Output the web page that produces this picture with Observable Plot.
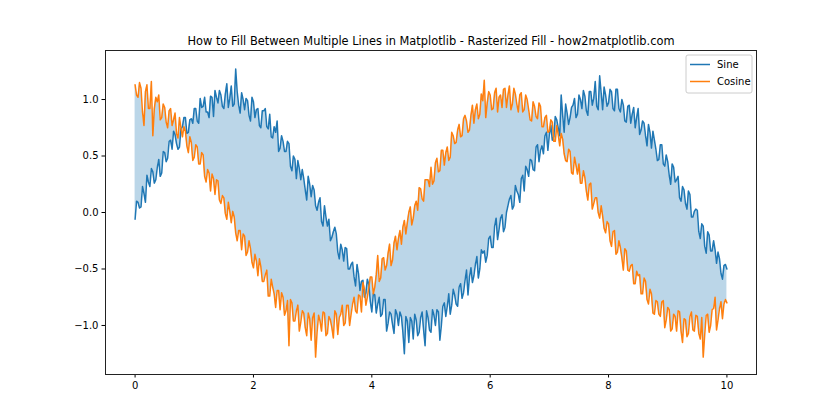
<!DOCTYPE html>
<html>
<head>
<meta charset="utf-8">
<script src="https://cdn.jsdelivr.net/npm/d3@7"></script>
<script src="https://cdn.jsdelivr.net/npm/@observablehq/plot@0.6"></script>
<style>
  html, body { margin: 0; padding: 0; background: #fff; }
  #chart { width: 840px; height: 420px; }
</style>
</head>
<body>
<div id="chart"></div>
<script>
const title = "How to Fill Between Multiple Lines in Matplotlib - Rasterized Fill - how2matplotlib.com";
const seriesNames = ["Sine", "Cosine"];
const seriesColors = ["#1f77b4", "#ff7f0e"];
const xTicks = [0, 2, 4, 6, 8, 10];
const yTicks = [-1.0, -0.5, 0.0, 0.5, 1.0];
const xStart = 0, xEnd = 10;

// noisy sine (x from 0 to 10, step 0.025)
const sine = [
  -0.06, 0.10, 0.09, 0.04, 0.05, 0.23, 0.17, 0.09, 0.33, 0.27, 0.23, 0.39, 0.36, 0.26, 0.29, 0.40, 0.47, 0.32, 0.35, 0.54,
  0.53, 0.45, 0.48, 0.63, 0.64, 0.56, 0.72, 0.69, 0.61, 0.56, 0.58, 0.74, 0.76, 0.84, 0.84, 0.70, 0.71, 0.82, 0.83, 0.79,
  0.92, 0.92, 0.81, 0.79, 1.01, 0.93, 0.94, 1.02, 0.89, 0.89, 0.84, 1.03, 1.02, 0.85, 1.08, 1.02, 0.97, 1.08, 1.04, 0.94,
  0.92, 1.05, 1.14, 0.93, 1.01, 1.12, 0.94, 0.96, 1.27, 1.07, 0.95, 0.88, 1.06, 1.00, 0.91, 1.01, 0.99, 0.86, 0.81, 1.02,
  0.98, 0.84, 0.91, 0.92, 0.77, 0.75, 0.90, 0.90, 0.92, 0.76, 0.74, 0.87, 0.67, 0.66, 0.76, 0.71, 0.81, 0.54, 0.57, 0.68,
  0.63, 0.54, 0.54, 0.63, 0.61, 0.41, 0.37, 0.50, 0.47, 0.30, 0.46, 0.39, 0.29, 0.38, 0.30, 0.20, 0.11, 0.32, 0.25, 0.14,
  0.24, 0.20, 0.06, 0.02, 0.09, 0.13, -0.08, -0.12, 0.06, -0.04, -0.12, -0.06, -0.25, -0.22, -0.17, -0.13, -0.19, -0.35, -0.41, -0.28,
  -0.33, -0.43, -0.31, -0.32, -0.50, -0.50, -0.46, -0.44, -0.57, -0.65, -0.46, -0.54, -0.69, -0.61, -0.60, -0.75, -0.71, -0.59, -0.64, -0.79,
  -0.88, -0.72, -0.73, -0.89, -0.81, -0.75, -0.92, -0.90, -0.77, -0.77, -1.05, -0.98, -0.88, -0.90, -0.99, -1.07, -0.86, -0.90, -1.00, -0.88,
  -0.92, -1.06, -1.25, -0.92, -0.96, -1.15, -0.93, -0.96, -1.12, -0.90, -0.95, -1.09, -1.06, -0.93, -0.88, -1.04, -1.18, -0.87, -0.93, -1.04,
  -1.06, -0.86, -0.91, -1.00, -0.86, -0.88, -1.13, -1.00, -0.83, -0.80, -0.92, -0.83, -0.72, -0.90, -0.82, -0.68, -0.73, -0.81, -0.83, -0.66,
  -0.63, -0.76, -0.71, -0.60, -0.51, -0.73, -0.57, -0.49, -0.62, -0.56, -0.46, -0.39, -0.58, -0.50, -0.33, -0.36, -0.34, -0.44, -0.38, -0.23,
  -0.21, -0.31, -0.31, -0.12, -0.05, -0.24, -0.15, -0.05, -0.02, -0.17, -0.13, 0.00, 0.06, 0.12, 0.15, 0.03, 0.06, 0.24, 0.19, 0.16,
  0.09, 0.30, 0.33, 0.19, 0.41, 0.38, 0.32, 0.47, 0.46, 0.38, 0.37, 0.58, 0.60, 0.45, 0.55, 0.59, 0.52, 0.68, 0.71, 0.55,
  0.69, 0.77, 0.64, 0.67, 0.85, 0.82, 0.75, 0.68, 1.04, 0.86, 0.71, 0.96, 0.88, 0.78, 0.84, 0.93, 0.95, 1.01, 0.84, 0.87,
  1.04, 1.00, 0.92, 1.08, 1.03, 0.90, 0.86, 1.07, 1.07, 0.95, 1.01, 1.16, 0.94, 0.91, 1.21, 1.06, 0.91, 1.11, 1.04, 0.94,
  0.97, 1.09, 1.07, 0.92, 0.90, 1.09, 1.09, 0.92, 0.89, 1.00, 0.95, 0.81, 0.80, 0.94, 0.95, 0.79, 0.87, 0.93, 0.75, 0.84,
  0.92, 0.69, 0.73, 0.81, 0.79, 0.68, 0.59, 0.78, 0.71, 0.57, 0.72, 0.64, 0.56, 0.46, 0.47, 0.60, 0.60, 0.43, 0.41, 0.51,
  0.45, 0.33, 0.25, 0.43, 0.40, 0.27, 0.29, 0.32, 0.13, 0.10, 0.23, 0.20, 0.08, 0.03, 0.19, 0.16, -0.04, -0.04, 0.01, 0.03,
  0.02, -0.17, -0.23, -0.10, -0.12, -0.30, -0.36, -0.17, -0.20, -0.34, -0.34, -0.25, -0.33, -0.45, -0.35, -0.41, -0.54, -0.59, -0.47, -0.46,
  -0.50
];

// noisy cosine (x from 0 to 10, step 0.025)
const cosine = [
  1.13, 1.04, 1.02, 1.15, 1.10, 0.89, 0.77, 1.07, 1.13, 0.92, 0.92, 1.16, 0.68, 0.92, 1.02, 0.98, 1.04, 0.82, 0.84, 0.96,
  0.93, 0.80, 0.75, 0.90, 0.92, 0.77, 0.82, 0.88, 0.70, 0.66, 0.84, 0.75, 0.67, 0.76, 0.72, 0.59, 0.53, 0.67, 0.62, 0.46,
  0.49, 0.60, 0.58, 0.43, 0.43, 0.53, 0.51, 0.32, 0.27, 0.38, 0.35, 0.19, 0.34, 0.30, 0.16, 0.29, 0.28, 0.11, 0.08, 0.15,
  0.13, -0.01, -0.06, 0.09, 0.01, -0.09, 0.01, -0.04, -0.18, -0.25, -0.16, -0.16, -0.33, -0.19, -0.21, -0.38, -0.35, -0.25, -0.32, -0.44,
  -0.49, -0.37, -0.43, -0.56, -0.41, -0.48, -0.61, -0.61, -0.55, -0.51, -0.74, -0.74, -0.59, -0.66, -0.72, -0.84, -0.69, -0.69, -0.86, -0.71,
  -0.75, -0.91, -0.87, -0.78, -1.18, -0.77, -0.80, -0.96, -0.96, -0.87, -0.82, -1.05, -0.97, -0.87, -0.89, -1.02, -1.09, -0.89, -0.94, -1.13,
  -0.93, -0.89, -1.28, -1.06, -0.91, -0.96, -1.05, -0.88, -0.89, -1.09, -1.07, -0.92, -0.95, -1.02, -1.11, -0.87, -0.90, -1.08, -0.93, -0.90,
  -0.82, -1.00, -0.98, -0.82, -0.82, -1.00, -0.90, -0.81, -0.75, -0.87, -0.89, -0.73, -0.74, -0.88, -0.62, -0.68, -0.82, -0.75, -0.66, -0.57,
  -0.57, -0.72, -0.66, -0.55, -0.38, -0.61, -0.58, -0.41, -0.40, -0.51, -0.47, -0.36, -0.28, -0.47, -0.42, -0.27, -0.21, -0.33, -0.23, -0.16,
  -0.28, -0.13, -0.07, -0.19, -0.09, 0.00, 0.05, -0.11, -0.05, 0.06, 0.10, 0.02, 0.22, 0.21, 0.12, 0.10, 0.29, 0.29, 0.29, 0.23,
  0.40, 0.25, 0.28, 0.44, 0.48, 0.36, 0.37, 0.55, 0.55, 0.42, 0.53, 0.58, 0.46, 0.49, 0.71, 0.68, 0.61, 0.62, 0.73, 0.78,
  0.67, 0.68, 0.83, 0.86, 0.81, 0.71, 0.73, 0.86, 0.95, 0.79, 0.91, 0.96, 0.83, 0.87, 1.05, 0.99, 1.17, 0.84, 0.97, 1.07,
  1.04, 0.91, 0.92, 1.06, 1.10, 0.89, 1.02, 1.04, 0.93, 1.09, 1.10, 0.93, 1.04, 1.12, 0.91, 0.96, 1.10, 1.05, 0.96, 0.89,
  1.04, 1.06, 0.89, 0.91, 1.04, 1.00, 0.91, 0.82, 0.81, 0.98, 0.94, 0.85, 0.83, 0.97, 0.94, 0.76, 0.76, 0.84, 0.86, 0.71,
  0.72, 0.82, 0.80, 0.63, 0.63, 0.77, 0.69, 0.59, 0.70, 0.65, 0.52, 0.46, 0.45, 0.56, 0.54, 0.35, 0.34, 0.49, 0.42, 0.34,
  0.43, 0.26, 0.26, 0.37, 0.31, 0.19, 0.11, 0.25, 0.26, 0.03, 0.08, 0.13, 0.13, 0.00, -0.05, 0.06, -0.03, -0.14, -0.18, -0.08,
  -0.10, -0.25, -0.30, -0.17, -0.16, -0.37, -0.35, -0.25, -0.31, -0.40, -0.51, -0.32, -0.34, -0.51, -0.52, -0.47, -0.46, -0.63, -0.63, -0.52,
  -0.56, -0.55, -0.72, -0.72, -0.58, -0.61, -0.77, -0.81, -0.68, -0.72, -0.89, -0.90, -0.78, -0.79, -0.90, -0.92, -0.79, -0.78, -1.02, -0.95,
  -0.84, -0.86, -1.05, -1.03, -0.90, -0.92, -1.05, -0.87, -0.88, -1.05, -1.15, -0.94, -0.95, -1.10, -1.07, -0.92, -0.88, -1.04, -1.05, -0.91,
  -0.92, -1.07, -1.12, -0.93, -1.28, -1.08, -0.91, -0.90, -1.06, -1.00, -0.86, -0.85, -0.75, -1.04, -0.95, -0.85, -0.79, -0.94, -0.81, -0.77,
  -0.80
];

const n = Math.min(sine.length, cosine.length);
const data = d3.range(n).map(i => ({
  x: xStart + (xEnd - xStart) * i / (n - 1),
  sine: sine[i],
  cosine: cosine[i]
}));

const W = 840, H = 420;
const mL = 105, mR = 84, mT = 50, mB = 46;
const font = "'DejaVu Sans', sans-serif";

const chart = Plot.plot({
  width: W,
  height: H,
  marginLeft: mL,
  marginRight: mR,
  marginTop: mT,
  marginBottom: mB,
  style: { fontFamily: font, fontSize: "10px", color: "#000", background: "#fff", overflow: "visible" },
  x: { domain: [-0.5, 10.5], ticks: xTicks, tickFormat: d => String(d), tickSize: 3.5, tickPadding: 3.5, label: null },
  y: { domain: [-1.434, 1.434], ticks: yTicks, tickFormat: d3.format(".1f"), tickSize: 3.5, tickPadding: 3.5, label: null },
  marks: [
    Plot.areaY(data, { x: "x", y1: "sine", y2: "cosine", fill: seriesColors[0], fillOpacity: 0.3 }),
    Plot.lineY(data, { x: "x", y: "sine", stroke: seriesColors[0], strokeWidth: 1.5 }),
    Plot.lineY(data, { x: "x", y: "cosine", stroke: seriesColors[1], strokeWidth: 1.5 }),
    Plot.frame({ stroke: "#222", strokeWidth: 1 }),
    Plot.text([title], { frameAnchor: "top", lineAnchor: "bottom", dy: -6, fontSize: 11.4, fill: "#000" })
  ]
});

document.getElementById("chart").appendChild(chart);

// legend (upper right, inside the frame)
const svg = d3.select(chart);
const lgW = 66, lgH = 38;
const lgX = W - mR - 4 - lgW, lgY = mT + 5;
const lg = svg.append("g").attr("transform", `translate(${lgX},${lgY})`);
lg.append("rect").attr("width", lgW).attr("height", lgH).attr("rx", 2)
  .attr("fill", "#fff").attr("fill-opacity", 0.8).attr("stroke", "#ccc");
seriesNames.forEach((name, i) => {
  const yy = 9.5 + i * 17;
  lg.append("line").attr("x1", 4).attr("x2", 24).attr("y1", yy).attr("y2", yy)
    .attr("stroke", seriesColors[i]).attr("stroke-width", 1.5);
  lg.append("text").attr("x", 31).attr("y", yy).attr("dy", "0.35em")
    .attr("text-anchor", "start")
    .attr("font-family", font).attr("font-size", 10).attr("fill", "#000").text(name);
});
</script>
</body>
</html>
